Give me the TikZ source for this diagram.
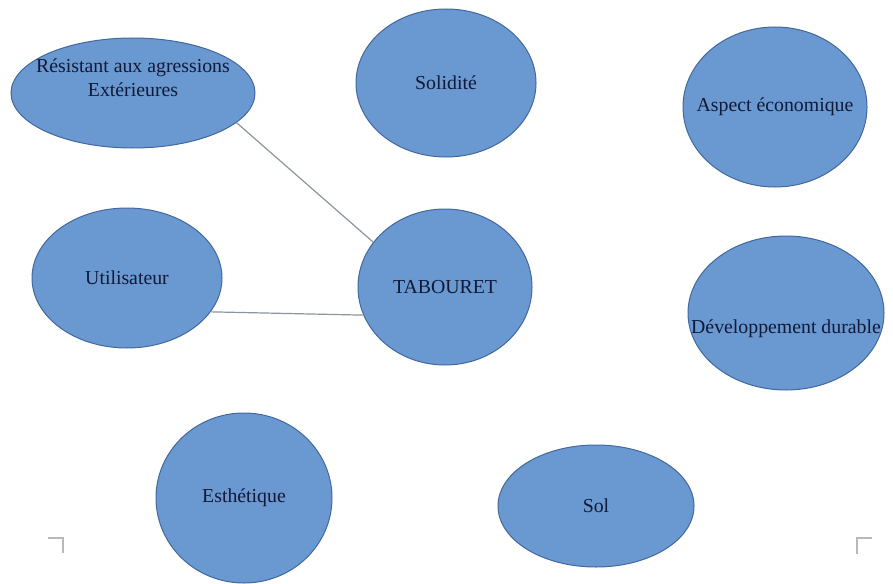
\documentclass[tikz,border=0pt]{standalone}
\usepackage{fontspec}
\setmainfont{Liberation Serif}
\usetikzlibrary{shapes.geometric}
\definecolor{bleu}{RGB}{106,152,208}
\definecolor{bord}{RGB}{66,104,158}
\definecolor{texte}{RGB}{16,26,56}
\definecolor{trait}{RGB}{140,148,158}

\begin{document}
\begin{tikzpicture}[x=1pt,y=-1pt,
    font=\fontsize{19.8}{24}\selectfont,
    bulle/.style={ellipse,draw=bord,fill=bleu,text=texte,align=center,
                  inner xsep=-32pt,inner ysep=0pt,line width=1pt},
    lien/.style={draw=trait,line width=1.2pt},
    coin/.style={draw=black!28,line width=1.5pt}
  ]
    \useasboundingbox (0,0) rectangle (893,583);
    \node[bulle,minimum width=244pt,minimum height=110pt,text depth=30pt] (resist)
      at (133,93) {Résistant aux agressions\\Extérieures};
    \node[bulle,minimum width=180pt,minimum height=148pt] (solid) at (446,83) {Solidité};
    \node[bulle,minimum width=184pt,minimum height=160pt] (aspect) at (775,107) {Aspect économique};
    \node[bulle,minimum width=174pt,minimum height=156pt] (tab) at (445,287) {TABOURET};
    \node[bulle,minimum width=190pt,minimum height=140pt] (util) at (127,278) {Utilisateur};
    \node[bulle,minimum width=196pt,minimum height=154pt,text height=44pt,text depth=4pt] (devel)
      at (786,313) {Développement durable};
    \node[bulle,minimum width=176pt,minimum height=170pt] (esth) at (244,498) {Esthétique};
    \node[bulle,minimum width=196pt,minimum height=122pt] (sol) at (596,506) {Sol};
    \draw[lien] (resist.-16)--(tab.148);
    \draw[lien] (util.-22)--(tab.199.5);
    % reperes de coin
    \draw[coin] (48,538)--(63,538)--(63,553);
    \draw[coin] (857,554)--(857,538)--(872,538);
  \end{tikzpicture}
\end{document}
